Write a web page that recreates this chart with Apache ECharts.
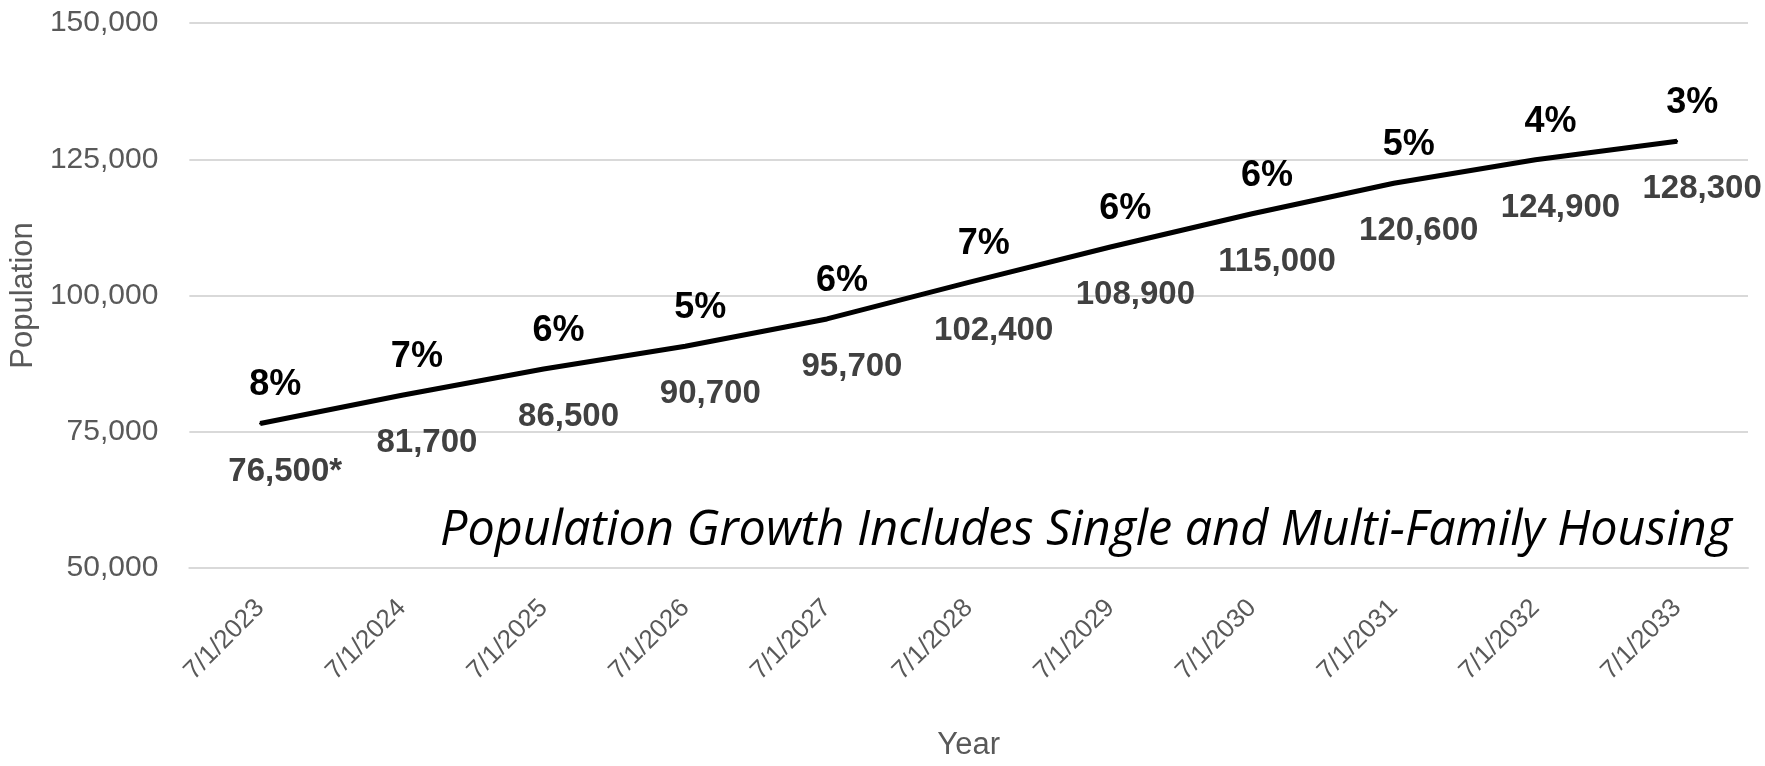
<!DOCTYPE html>
<html>
<head>
<meta charset="utf-8">
<script src="https://cdn.jsdelivr.net/npm/echarts@6/dist/echarts.min.js"></script>
<style>
html,body{margin:0;padding:0;background:#fff;}
#chart{width:1765px;height:766px;}
</style>
</head>
<body>
<div id="chart"></div>
<script>
const categories = ['7/1/2023','7/1/2024','7/1/2025','7/1/2026','7/1/2027','7/1/2028','7/1/2029','7/1/2030','7/1/2031','7/1/2032','7/1/2033'];
const population = [76500, 81700, 86500, 90700, 95700, 102400, 108900, 115000, 120600, 124900, 128300];
const growthPct = [8, 7, 6, 5, 6, 7, 6, 6, 5, 4, 3];
const footnoteMarks = ['*', '', '', '', '', '', '', '', '', '', ''];
const yTicks = {min: 50000, max: 150000, interval: 25000};
const annotation = 'Population Growth Includes Single and Multi-Family Housing';

const fmt = v => v.toLocaleString('en-US');
const chart = echarts.init(document.getElementById('chart'));
chart.setOption({
  animation: false,
  backgroundColor: '#ffffff',
  grid: {left: 188, right: 17, top: 23, bottom: 188, containLabel: false},
  xAxis: {
    type: 'category',
    data: categories,
    boundaryGap: true,
    name: 'Year',
    nameLocation: 'middle',
    nameGap: 162,
    nameTextStyle: {fontFamily: 'Liberation Sans', fontSize: 31, color: '#595959'},
    axisLine: {show: true, lineStyle: {color: '#d9d9d9', width: 2}},
    axisTick: {show: false},
    axisLabel: {rotate: 45, margin: 36, fontFamily: 'Liberation Sans', fontSize: 26, color: '#595959', interval: 0}
  },
  yAxis: {
    type: 'value',
    min: yTicks.min, max: yTicks.max, interval: yTicks.interval,
    name: 'Population',
    nameLocation: 'middle',
    nameGap: 146,
    nameTextStyle: {fontFamily: 'Liberation Sans', fontSize: 31, color: '#595959'},
    axisLine: {show: false},
    axisTick: {show: false},
    axisLabel: {margin: 31, fontFamily: 'Liberation Sans', fontSize: 30, color: '#595959', formatter: v => fmt(v)},
    splitLine: {lineStyle: {color: '#d9d9d9', width: 2}}
  },
  series: [
    {
      type: 'line',
      data: population,
      symbol: 'circle',
      symbolSize: 2,
      itemStyle: {color: '#000'},
      lineStyle: {color: '#000', width: 5},
      label: {
        show: true,
        position: 'inside',
        offset: [25, 48],
        fontFamily: 'Liberation Sans',
        fontWeight: 'bold',
        fontSize: 33,
        color: '#404040',
        formatter: p => fmt(p.value) + footnoteMarks[p.dataIndex]
      },
      z: 3
    },
    {
      type: 'line',
      data: population,
      symbol: 'circle',
      symbolSize: 2,
      itemStyle: {color: '#000'},
      lineStyle: {width: 0, opacity: 0},
      label: {
        show: true,
        position: 'inside',
        offset: [15, -38],
        fontFamily: 'Liberation Sans',
        fontWeight: 'bold',
        fontSize: 36,
        color: '#000000',
        formatter: p => growthPct[p.dataIndex] + '%'
      },
      z: 2
    }
  ],
  graphic: [{
    type: 'text',
    x: 440,
    y: 531,
    style: {
      text: annotation,
      fontFamily: 'Open Sans',
      fontStyle: 'italic',
      fontSize: 48.5,
      fill: '#000',
      verticalAlign: 'middle',
      align: 'left'
    }
  }]
});
</script>
</body>
</html>
